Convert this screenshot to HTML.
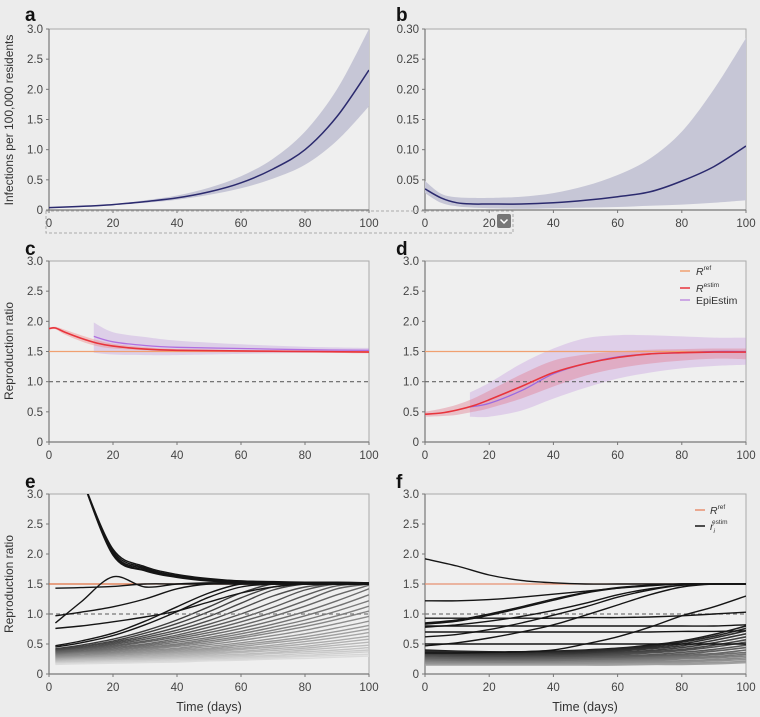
<!DOCTYPE html>
<html><head><meta charset="utf-8"><style>
html,body{margin:0;padding:0;background:#ececec;}
svg{display:block;font-family:"Liberation Sans",sans-serif;}
</style></head><body>
<svg id="fig" width="760" height="717" viewBox="0 0 760 717"></svg>
<script>
// ---------- data ----------
const aX=[0,10,20,30,40,50,60,70,80,90,100];
const aMean=[0.04,0.06,0.09,0.14,0.2,0.3,0.45,0.68,1.0,1.55,2.32];
const aLow=[0.035,0.05,0.08,0.12,0.17,0.25,0.36,0.52,0.75,1.15,1.72];
const aHigh=[0.045,0.07,0.1,0.16,0.24,0.37,0.56,0.85,1.3,2.0,3.0];
const bX=[0,5,10,15,20,30,40,50,60,70,80,90,100];
const bMean=[0.035,0.02,0.012,0.01,0.01,0.01,0.012,0.016,0.022,0.03,0.048,0.072,0.106];
const bHigh=[0.048,0.027,0.021,0.02,0.02,0.022,0.028,0.04,0.058,0.085,0.13,0.2,0.285];
const bLow=[0.028,0.012,0.006,0.004,0.003,0.002,0.003,0.004,0.005,0.007,0.009,0.012,0.016];
const cX=[0,2,5,10,15,20,30,40,60,80,100];
const cEst=[1.88,1.89,1.82,1.72,1.64,1.59,1.54,1.52,1.51,1.5,1.49];
const cEstHi=[1.9,1.91,1.86,1.77,1.69,1.63,1.57,1.54,1.52,1.51,1.5];
const cEstLo=[1.86,1.87,1.78,1.67,1.59,1.55,1.52,1.5,1.49,1.48,1.47];
const cEpiX=[14,20,30,40,60,80,100];
const cEpi=[1.75,1.66,1.6,1.57,1.55,1.53,1.52];
const cEpiHi=[1.98,1.82,1.74,1.68,1.62,1.58,1.56];
const cEpiLo=[1.48,1.45,1.44,1.44,1.46,1.48,1.5];
const dX=[0,5,10,15,20,30,40,50,60,70,80,90,100];
const dEst=[0.46,0.48,0.53,0.6,0.7,0.92,1.15,1.3,1.4,1.46,1.48,1.49,1.49];
const dEstHi=[0.5,0.55,0.62,0.72,0.85,1.12,1.35,1.45,1.5,1.53,1.54,1.55,1.55];
const dEstLo=[0.42,0.43,0.45,0.5,0.56,0.72,0.92,1.1,1.22,1.3,1.35,1.38,1.37];
const dEpiX=[14,20,30,40,50,60,70,80,90,100];
const dEpi=[0.58,0.64,0.85,1.13,1.3,1.41,1.46,1.48,1.5,1.5];
const dEpiHi=[0.82,0.98,1.3,1.55,1.72,1.77,1.77,1.75,1.73,1.73];
const dEpiLo=[0.42,0.42,0.52,0.72,0.9,1.05,1.15,1.22,1.26,1.28];
const R_REF=1.5;
const eX=[2,10,20,30,40,50,60,70,80,90,100];
const eDark=[
[null,3.3,2.02,1.75,1.63,1.57,1.54,1.53,1.52,1.52,1.51],
[null,3.3,2.05,1.77,1.64,1.58,1.55,1.53,1.52,1.52,1.52],
[null,3.3,2.0,1.73,1.62,1.56,1.53,1.52,1.51,1.51,1.5],
[null,3.3,2.08,1.79,1.66,1.59,1.55,1.54,1.53,1.53,1.52],
[null,3.3,1.98,1.72,1.61,1.55,1.53,1.52,1.51,1.5,1.5],
[0.85,1.2,1.62,1.45,1.5,1.52,1.52,1.5,1.5,1.5,1.5],
[1.43,1.44,1.46,1.5,1.5,1.5,1.5,1.5,1.5,1.5,1.5],
[0.97,1.03,1.12,1.25,1.42,1.5,1.5,1.5,1.5,1.5,1.5],
[0.76,0.8,0.87,0.95,1.05,1.2,1.35,1.45,1.5,1.5,1.5],
[0.47,0.55,0.68,0.88,1.12,1.35,1.5,1.5,1.5,1.5,1.5],
[0.45,0.52,0.64,0.82,1.04,1.28,1.45,1.5,1.5,1.5,1.5]];
const eGray=[
[0.42,0.48,0.58,0.72,0.9,1.12,1.35,1.5,1.5,1.5,1.5],
[0.41,0.46,0.55,0.68,0.84,1.04,1.27,1.45,1.5,1.5,1.5],
[0.40,0.45,0.53,0.64,0.78,0.96,1.18,1.4,1.5,1.5,1.5],
[0.39,0.43,0.51,0.61,0.73,0.89,1.09,1.3,1.45,1.5,1.5],
[0.38,0.42,0.49,0.58,0.69,0.83,1.0,1.2,1.4,1.5,1.5],
[0.37,0.41,0.47,0.55,0.65,0.78,0.93,1.11,1.31,1.47,1.5],
[0.36,0.40,0.46,0.53,0.62,0.73,0.87,1.03,1.22,1.42,1.5],
[0.35,0.38,0.44,0.5,0.59,0.69,0.81,0.96,1.13,1.32,1.48],
[0.34,0.37,0.42,0.48,0.56,0.65,0.76,0.89,1.04,1.22,1.42],
[0.33,0.36,0.4,0.46,0.53,0.61,0.71,0.83,0.97,1.13,1.32],
[0.32,0.35,0.39,0.44,0.5,0.58,0.67,0.78,0.9,1.05,1.22],
[0.31,0.34,0.37,0.42,0.48,0.55,0.63,0.73,0.84,0.97,1.13],
[0.30,0.33,0.36,0.41,0.46,0.52,0.6,0.69,0.79,0.91,1.05],
[0.29,0.31,0.34,0.39,0.43,0.49,0.56,0.64,0.73,0.84,0.96],
[0.28,0.30,0.33,0.37,0.41,0.46,0.52,0.59,0.67,0.77,0.88],
[0.27,0.29,0.32,0.35,0.39,0.43,0.49,0.55,0.62,0.71,0.81],
[0.26,0.28,0.31,0.34,0.37,0.41,0.46,0.52,0.58,0.66,0.75],
[0.25,0.27,0.29,0.32,0.35,0.39,0.43,0.48,0.54,0.61,0.69],
[0.24,0.26,0.28,0.31,0.34,0.37,0.41,0.45,0.5,0.56,0.63],
[0.23,0.25,0.27,0.29,0.32,0.35,0.38,0.42,0.46,0.52,0.58],
[0.22,0.24,0.26,0.28,0.3,0.33,0.36,0.39,0.43,0.48,0.53],
[0.21,0.23,0.24,0.26,0.28,0.31,0.33,0.36,0.4,0.44,0.48],
[0.20,0.22,0.23,0.25,0.27,0.29,0.31,0.34,0.37,0.4,0.44],
[0.19,0.2,0.22,0.23,0.25,0.27,0.29,0.31,0.34,0.37,0.4],
[0.18,0.19,0.21,0.22,0.24,0.25,0.27,0.29,0.31,0.34,0.37],
[0.17,0.18,0.19,0.2,0.22,0.23,0.25,0.27,0.29,0.31,0.33],
[0.16,0.17,0.18,0.19,0.2,0.22,0.23,0.25,0.26,0.28,0.3]];
const fX=[0,10,20,30,40,50,60,70,80,90,100];
const fDark=[
[1.92,1.8,1.65,1.56,1.52,1.5,1.5,1.5,1.5,1.5,1.5],
[1.22,1.22,1.24,1.28,1.33,1.38,1.43,1.47,1.5,1.5,1.5],
[0.85,0.9,1.0,1.12,1.25,1.36,1.44,1.48,1.5,1.5,1.5],
[0.83,0.88,0.98,1.1,1.23,1.35,1.43,1.48,1.5,1.5,1.5],
[0.78,0.82,0.88,0.96,1.06,1.18,1.32,1.42,1.48,1.5,1.5],
[0.62,0.66,0.74,0.85,0.98,1.12,1.28,1.4,1.48,1.5,1.5],
[0.47,0.52,0.6,0.7,0.82,0.98,1.15,1.32,1.45,1.5,1.5],
[0.35,0.35,0.36,0.37,0.4,0.5,0.62,0.78,0.97,1.12,1.3],
[0.93,0.93,0.93,0.93,0.93,0.94,0.94,0.95,0.97,1.0,1.03],
[0.8,0.8,0.8,0.8,0.8,0.8,0.8,0.8,0.8,0.8,0.82],
[0.7,0.7,0.7,0.7,0.7,0.7,0.7,0.7,0.71,0.71,0.72],
[0.5,0.5,0.5,0.5,0.5,0.5,0.5,0.5,0.5,0.5,0.5]];
const fGray=[
[0.4,0.38,0.37,0.37,0.38,0.4,0.43,0.48,0.55,0.66,0.8],
[0.38,0.37,0.36,0.36,0.37,0.39,0.42,0.46,0.53,0.63,0.76],
[0.36,0.35,0.34,0.34,0.35,0.37,0.4,0.44,0.5,0.6,0.72],
[0.34,0.33,0.33,0.33,0.34,0.35,0.38,0.42,0.47,0.56,0.67],
[0.33,0.32,0.31,0.31,0.32,0.33,0.36,0.39,0.44,0.52,0.62],
[0.31,0.3,0.3,0.3,0.3,0.32,0.34,0.37,0.41,0.48,0.57],
[0.3,0.29,0.28,0.28,0.29,0.3,0.32,0.35,0.39,0.45,0.53],
[0.28,0.27,0.27,0.27,0.27,0.28,0.3,0.32,0.36,0.41,0.48],
[0.27,0.26,0.25,0.25,0.26,0.27,0.28,0.3,0.33,0.38,0.44],
[0.25,0.24,0.24,0.24,0.24,0.25,0.26,0.28,0.31,0.34,0.4],
[0.24,0.23,0.22,0.22,0.23,0.24,0.25,0.27,0.29,0.32,0.36],
[0.22,0.21,0.21,0.21,0.21,0.22,0.23,0.25,0.27,0.29,0.33],
[0.21,0.2,0.2,0.2,0.2,0.21,0.22,0.23,0.25,0.27,0.3],
[0.19,0.19,0.18,0.18,0.19,0.19,0.2,0.21,0.22,0.24,0.27],
[0.18,0.17,0.17,0.17,0.17,0.18,0.18,0.19,0.2,0.22,0.24],
[0.16,0.16,0.16,0.16,0.16,0.16,0.17,0.17,0.18,0.19,0.21],
[0.15,0.15,0.15,0.15,0.15,0.15,0.15,0.16,0.16,0.17,0.19]];
const xTicks=[0,20,40,60,80,100];
const rTicks=[0,0.5,1.0,1.5,2.0,2.5,3.0];
const rTickLabels=["0","0.5","1.0","1.5","2.0","2.5","3.0"];
const bTicks=[0,0.05,0.1,0.15,0.2,0.25,0.3];
const bTickLabels=["0","0.05","0.10","0.15","0.20","0.25","0.30"];

// ---------- helpers ----------
const NS="http://www.w3.org/2000/svg";
const svg=document.getElementById('fig');
function mk(tag,attrs,parent){const e=document.createElementNS(NS,tag);for(const k in attrs)e.setAttribute(k,attrs[k]);(parent||svg).appendChild(e);return e;}
function panel(x0,x1,y0,y1,ymax){
  return {sx:v=>x0+(x1-x0)*v/100,sy:v=>y0-(y0-y1)*v/ymax,x0,x1,y0,y1,ymax};
}
function smooth(pts,start){
  if(!pts.length)return "";
  let d=(start?"M":"L")+pts[0][0].toFixed(1)+","+pts[0][1].toFixed(1);
  for(let i=0;i<pts.length-1;i++){
    const p0=pts[Math.max(i-1,0)],p1=pts[i],p2=pts[i+1],p3=pts[Math.min(i+2,pts.length-1)];
    const c1=[p1[0]+(p2[0]-p0[0])/6,p1[1]+(p2[1]-p0[1])/6];
    const c2=[p2[0]-(p3[0]-p1[0])/6,p2[1]-(p3[1]-p1[1])/6];
    d+="C"+c1[0].toFixed(1)+","+c1[1].toFixed(1)+" "+c2[0].toFixed(1)+","+c2[1].toFixed(1)+" "+p2[0].toFixed(1)+","+p2[1].toFixed(1);
  }
  return d;
}
function pathFrom(P,xs,ys){
  const segs=[];let cur=[];
  for(let i=0;i<xs.length;i++){if(ys[i]==null){if(cur.length)segs.push(cur);cur=[];continue;}
    cur.push([P.sx(xs[i]),P.sy(Math.min(ys[i],P.ymax*1.15))]);}
  if(cur.length)segs.push(cur);
  return segs.map(s=>smooth(s,true)).join("");
}
function bandFrom(P,xs,lo,hi){
  const up=xs.map((x,i)=>[P.sx(x),P.sy(hi[i])]);
  const dn=xs.map((x,i)=>[P.sx(x),P.sy(lo[i])]).reverse();
  return smooth(up,true)+smooth(dn,false)+"Z";
}
function frame(P,name,yt,ytl,clipId){
  const cp=mk('clipPath',{id:clipId});mk('rect',{x:P.x0,y:P.y1,width:P.x1-P.x0,height:P.y0-P.y1},cp);
  const f=mk('rect',{x:P.x0,y:P.y1,width:P.x1-P.x0,height:P.y0-P.y1,fill:'#efefef',stroke:'#aaa','stroke-width':1});
  
  
  const ax=mk('g',{});
  
  
  mk('line',{x1:P.x0,x2:P.x1,y1:P.y0,y2:P.y0,stroke:'#777','stroke-width':1.2},ax);
  xTicks.forEach(t=>{mk('line',{x1:P.sx(t),x2:P.sx(t),y1:P.y0,y2:P.y0+3,stroke:'#777'},ax);
    const tx=mk('text',{x:P.sx(t),y:P.y0+17,'font-size':11.5,fill:'#444','text-anchor':'middle'},ax);tx.textContent=t;});
  const ay=mk('g',{});
  
  
  mk('line',{x1:P.x0,x2:P.x0,y1:P.y0,y2:P.y1,stroke:'#777','stroke-width':1.2},ay);
  yt.forEach((t,i)=>{mk('line',{x1:P.x0-3,x2:P.x0,y1:P.sy(t),y2:P.sy(t),stroke:'#777'},ay);
    const tx=mk('text',{x:P.x0-6,y:P.sy(t)+4,'font-size':11.5,fill:'#444','text-anchor':'end'},ay);tx.textContent=ytl[i];});
  return mk('g',{'clip-path':'url(#'+clipId+')'});
}
function label(txt,x,y){const t=mk('text',{x,y,'font-size':19,'font-weight':'bold',fill:'#111'});t.textContent=txt;
  
  }
function ytitle(txt,x,y,name){const t=mk('text',{x,y,'font-size':12,fill:'#333','text-anchor':'middle',transform:'rotate(-90 '+x+' '+y+')'});t.textContent=txt;
  
  }
function hline(g,P,v,col,dash,name){const l=mk('line',{x1:P.x0,x2:P.x1,y1:P.sy(v),y2:P.sy(v),stroke:col,'stroke-width':1.2,'stroke-dasharray':dash||'none'},g);
  
  }

// ---------- panel a ----------
const A=panel(49,369,210,29,3.0);
let g=frame(A,'panel-a',rTicks,rTickLabels,'ca');
let el=mk('path',{d:bandFrom(A,aX,aLow,aHigh),fill:'#c6c6d6'},g);


el=mk('path',{d:pathFrom(A,aX,aMean),fill:'none',stroke:'#2b2a6e','stroke-width':1.5},g);


label('a',25,21);
ytitle('Infections per 100,000 residents',13,120,'a-y-axis-title');

// ---------- panel b ----------
const B=panel(425,746,210,29,0.3);
g=frame(B,'panel-b',bTicks,bTickLabels,'cb');
el=mk('path',{d:bandFrom(B,bX,bLow,bHigh),fill:'#c6c6d6'},g);


el=mk('path',{d:pathFrom(B,bX,bMean),fill:'none',stroke:'#2b2a6e','stroke-width':1.5},g);


label('b',396,21);

// selection artifact
el=mk('rect',{x:46,y:211,width:467,height:22,fill:'none',stroke:'#aaa','stroke-dasharray':'3,2'});


el=mk('rect',{x:497,y:214,width:14,height:14,rx:2,fill:'#777'});


mk('path',{d:'M500.5,219.5 L504,223 L507.5,219.5',fill:'none',stroke:'#fff','stroke-width':1.5});

// ---------- panel c ----------
const C=panel(49,369,442,261,3.0);
g=frame(C,'panel-c',rTicks,rTickLabels,'cc');
el=mk('path',{d:bandFrom(C,cEpiX,cEpiLo,cEpiHi),fill:'rgba(190,150,220,0.35)'},g);


el=mk('path',{d:bandFrom(C,cX,cEstLo,cEstHi),fill:'rgba(240,140,140,0.45)'},g);


hline(g,C,R_REF,'#f0a070',null,'c-rref-line');
hline(g,C,1.0,'#666','4,3','c-threshold-line');
el=mk('path',{d:pathFrom(C,cEpiX,cEpi),fill:'none',stroke:'#b070e0','stroke-width':1.3},g);


el=mk('path',{d:pathFrom(C,cX,cEst),fill:'none',stroke:'#e8343c','stroke-width':1.6},g);


label('c',25,255);
ytitle('Reproduction ratio',13,351,'c-y-axis-title');

// ---------- panel d ----------
const D=panel(425,746,442,261,3.0);
g=frame(D,'panel-d',rTicks,rTickLabels,'cd');
el=mk('path',{d:bandFrom(D,dEpiX,dEpiLo,dEpiHi),fill:'rgba(200,160,225,0.4)'},g);


el=mk('path',{d:bandFrom(D,dX,dEstLo,dEstHi),fill:'rgba(225,120,140,0.4)'},g);


hline(g,D,R_REF,'#f0a070',null,'d-rref-line');
hline(g,D,1.0,'#666','4,3','d-threshold-line');
el=mk('path',{d:pathFrom(D,dEpiX,dEpi),fill:'none',stroke:'#9a6ae0','stroke-width':1.3},g);


el=mk('path',{d:pathFrom(D,dX,dEst),fill:'none',stroke:'#e8343c','stroke-width':1.6},g);


label('d',396,255);
const lg=mk('g',{});


[['#f0a070','R','ref',275],['#e8343c','R','estim',292],['#c090e0','EpiEstim','',304]].forEach(r=>{
  mk('line',{x1:680,x2:690,y1:r[3]-4,y2:r[3]-4,stroke:r[0],'stroke-width':1.5},lg);
  const t=mk('text',{x:696,y:r[3],'font-size':10.5,fill:'#333'},lg);
  if(r[2]){t.innerHTML='<tspan font-style="italic">'+r[1]+'</tspan><tspan font-size="6.5" dy="-5">'+r[2]+'</tspan>';}else t.textContent=r[1];
});

// ---------- panel e ----------
const E=panel(49,369,674,494,3.0);
g=frame(E,'panel-e',rTicks,rTickLabels,'ce');
eGray.forEach((s,i)=>{const c=Math.round(60+160*i/(eGray.length-1));
  const p=mk('path',{d:pathFrom(E,eX,s),fill:'none',stroke:'rgb('+c+','+c+','+c+')','stroke-width':1.4},g);
  
  });
hline(g,E,1.0,'#777','4,3','e-threshold-line');
hline(g,E,R_REF,'#e07040',null,'e-rref-line');
eDark.forEach(s=>{const p=mk('path',{d:pathFrom(E,eX,s),fill:'none',stroke:'#151515','stroke-width':1.4},g);
  
  });
label('e',25,488);
ytitle('Reproduction ratio',13,584,'e-y-axis-title');
el=mk('text',{x:209,y:711,'font-size':12.5,fill:'#333','text-anchor':'middle'});el.textContent='Time (days)';



// ---------- panel f ----------
const F=panel(425,746,674,494,3.0);
g=frame(F,'panel-f',rTicks,rTickLabels,'cf');
fGray.forEach((s,i)=>{const c=Math.round(30+130*i/(fGray.length-1));
  const p=mk('path',{d:pathFrom(F,fX,s),fill:'none',stroke:'rgb('+c+','+c+','+c+')','stroke-width':1.6},g);
  
  });
hline(g,F,1.0,'#777','4,3','f-threshold-line');
hline(g,F,R_REF,'#e89070',null,'f-rref-line');
fDark.forEach(s=>{const p=mk('path',{d:pathFrom(F,fX,s),fill:'none',stroke:'#151515','stroke-width':1.4},g);
  
  });
label('f',396,488);
const lf=mk('g',{});


mk('line',{x1:695,x2:705,y1:510,y2:510,stroke:'#e89070','stroke-width':1.5},lf);
let t=mk('text',{x:710,y:514,'font-size':10.5,fill:'#333'},lf);t.innerHTML='<tspan font-style="italic">R</tspan><tspan font-size="6.5" dy="-5">ref</tspan>';
mk('line',{x1:695,x2:705,y1:526,y2:526,stroke:'#151515','stroke-width':1.5},lf);
t=mk('text',{x:710,y:530,'font-size':10.5,fill:'#333'},lf);t.innerHTML='<tspan font-style="italic">r</tspan><tspan font-size="6.5" dy="3" font-style="italic">i</tspan><tspan font-size="6.5" dy="-9" dx="-3">estim</tspan>';
el=mk('text',{x:585,y:711,'font-size':12.5,fill:'#333','text-anchor':'middle'});el.textContent='Time (days)';


</script>
</body></html>
